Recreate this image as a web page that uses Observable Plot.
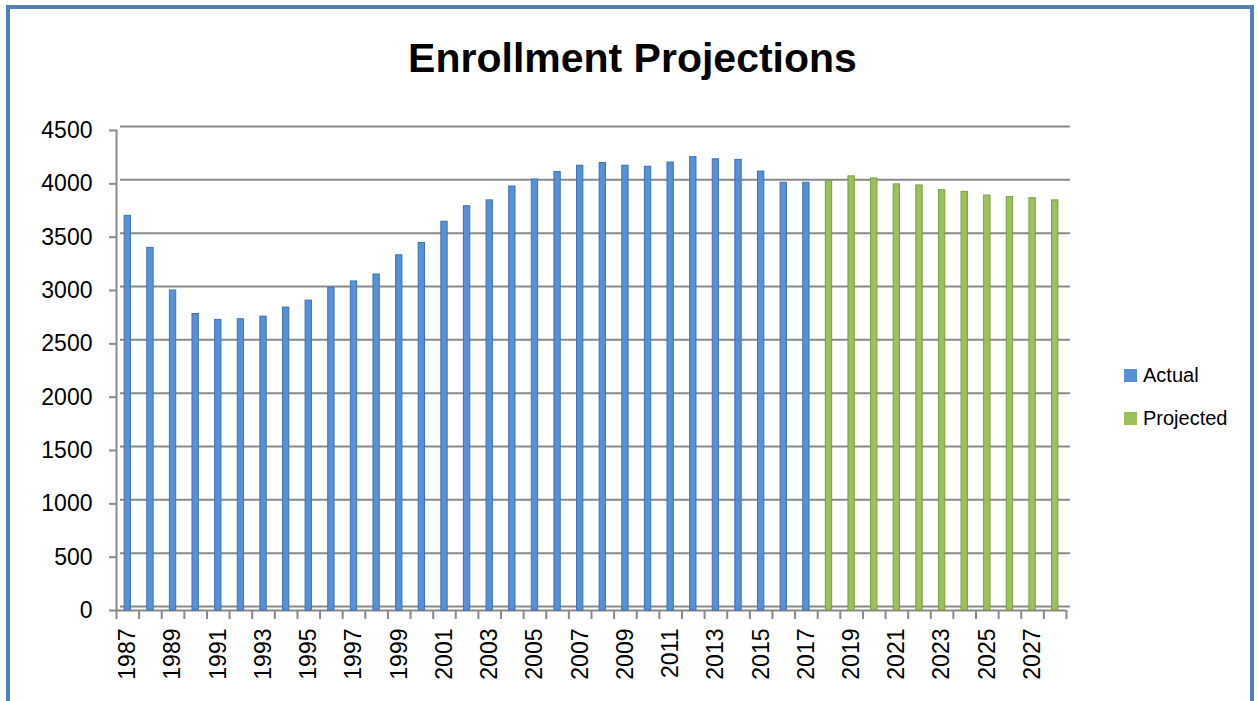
<!DOCTYPE html>
<html>
<head>
<meta charset="utf-8">
<script src="https://cdn.jsdelivr.net/npm/d3@7"></script>
<script src="https://cdn.jsdelivr.net/npm/@observablehq/plot@0.6"></script>
<style>
  html, body { margin: 0; padding: 0; background: #fff; overflow: hidden; }
  #wrap { position: relative; width: 1257px; height: 701px; overflow: hidden; background: #fff; }
  #border { position: absolute; left: 6px; top: 5px; width: 1248px; height: 760px; box-sizing: border-box; border: 4px solid #4f81bd; }
  #title { position: absolute; left: 8px; top: 35px; width: 1249px; text-align: center; font-family: "Liberation Sans", Arial, sans-serif; font-weight: bold; font-size: 41px; color: #000; }
  #chart { position: absolute; left: 0; top: 0; }
  #legend { position: absolute; left: 1124px; top: 362px; font-family: "Liberation Sans", Arial, sans-serif; font-size: 20px; color: #000; }
  #legend .row { display: flex; align-items: center; height: 26px; margin-bottom: 17px; }
  #legend .sw { width: 13px; height: 13px; margin-right: 6px; }
</style>
</head>
<body>
<div id="wrap">
  <div id="border"></div>
  <div id="title">Enrollment Projections</div>
  <div id="chart"></div>
  <div id="legend"></div>
</div>
<script>
const actualYears = d3.range(1987, 2018).map(String);
const actualValues = [3700, 3400, 3000, 2780, 2725, 2730, 2755, 2840, 2905, 3025, 3085, 3150, 3330, 3445, 3645, 3790, 3845, 3975, 4040, 4110, 4170, 4195, 4170, 4160, 4200, 4250, 4230, 4225, 4115, 4010, 4010];
const projectedYears = d3.range(2018, 2029).map(String);
const projectedValues = [4025, 4070, 4050, 3995, 3985, 3940, 3925, 3890, 3875, 3865, 3845];
const seriesNames = ["Actual", "Projected"];
const seriesColors = ["#5590d8", "#9cc15b"];
const seriesStrokes = ["#3f72b3", "#7c9b42"];
const yTicks = [0, 500, 1000, 1500, 2000, 2500, 3000, 3500, 4000, 4500];

const allYears = actualYears.concat(projectedYears);
const data = actualYears.map((y, i) => ({year: y, value: actualValues[i], series: seriesNames[0]}))
  .concat(projectedYears.map((y, i) => ({year: y, value: projectedValues[i], series: seriesNames[1]})));

const W = 1257, H = 701;
const mL = 116, mR = W - 1066, mT = 130, mB = H - 610;
const step = (W - mL - mR) / allYears.length;
const grid = "#8a8a8a";

const chart = Plot.plot({
  width: W,
  height: H,
  marginLeft: mL,
  marginRight: mR,
  marginTop: mT,
  marginBottom: mB,
  style: {fontFamily: "Liberation Sans, Arial, sans-serif", fontSize: "23px", color: "#000", background: "transparent", overflow: "visible"},
  x: {type: "band", domain: allYears, paddingInner: 0.72, paddingOuter: 0.36, align: 0.5, round: false, label: null},
  y: {domain: [0, 4500], label: null},
  color: {domain: seriesNames, range: seriesColors},
  marks: [
    // back-wall gridlines
    Plot.ruleY(yTicks, {stroke: grid, strokeWidth: 2, dx: 4, dy: -4}),
    // front floor line
    Plot.ruleY([0], {stroke: grid, strokeWidth: 2}),
    // left axis line
    Plot.frame({anchor: "left", stroke: grid, strokeWidth: 2}),
    // category boundary ticks
    Plot.ruleX(allYears, {x: d => d, dx: -step / 2, stroke: grid, strokeWidth: 2, insetTop: H - mT - mB, insetBottom: -9}),
    Plot.ruleX(allYears.slice(-1), {x: d => d, dx: step / 2, stroke: grid, strokeWidth: 2, insetTop: H - mT - mB, insetBottom: -9}),
    Plot.barY(data, {x: "year", y: "value", fill: "series", stroke: d => d.series === seriesNames[0] ? seriesStrokes[0] : seriesStrokes[1], strokeWidth: 1}),
    Plot.axisY({ticks: yTicks, tickSize: 7, tickPadding: 17, stroke: grid, strokeWidth: 2, fontSize: 23, label: null, tickFormat: d => String(d)}),
    Plot.axisX({tickSize: 0, tickPadding: 18, tickRotate: -90, textAnchor: "end", lineAnchor: "middle", fontSize: 23, label: null,
      tickFormat: (d) => (+d - 1987) % 2 === 0 ? d : ""})
  ]
});
document.getElementById("chart").appendChild(chart);

const legend = document.getElementById("legend");
seriesNames.forEach((n, i) => {
  const row = document.createElement("div");
  row.className = "row";
  const sw = document.createElement("div");
  sw.className = "sw";
  sw.style.background = seriesColors[i];
  const t = document.createElement("span");
  t.textContent = n;
  row.appendChild(sw);
  row.appendChild(t);
  legend.appendChild(row);
});
</script>
</body>
</html>
